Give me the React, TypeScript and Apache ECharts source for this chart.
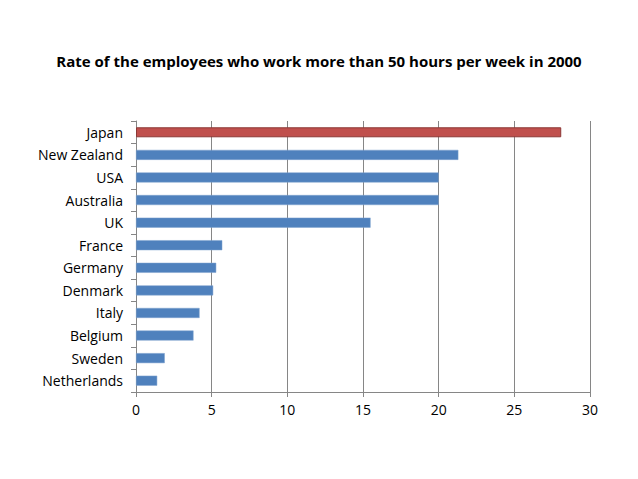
import React, { useEffect, useRef } from "react";
import * as echarts from "echarts";

const countries = [
  "Japan",
  "New Zealand",
  "USA",
  "Australia",
  "UK",
  "France",
  "Germany",
  "Denmark",
  "Italy",
  "Belgium",
  "Sweden",
  "Netherlands",
];
const rates = [28.1, 21.3, 20, 20, 15.5, 5.7, 5.3, 5.1, 4.2, 3.8, 1.9, 1.4];
const highlighted = "Japan";
const titleText = "Rate of the employees who work more than 50 hours per week in 2000";

export default function App() {
  const ref = useRef<HTMLDivElement>(null);
  useEffect(() => {
    if (!ref.current) return;
    const chart = echarts.init(ref.current, undefined, { renderer: "svg" });
    const font = "Open Sans";
    chart.setOption({
      animation: false,
      backgroundColor: "#ffffff",
      title: {
        text: titleText,
        left: "center",
        top: 48,
        textStyle: { fontFamily: font, fontSize: 15, fontWeight: "bold", color: "#000" },
      },
      grid: { left: 136, right: 48, top: 121, bottom: 87, containLabel: false },
      xAxis: {
        type: "value",
        min: 0,
        max: 30,
        interval: 5,
        axisLine: { show: true, lineStyle: { color: "#868686", width: 1 } },
        axisTick: { show: true, length: 5, lineStyle: { color: "#868686" } },
        axisLabel: { fontFamily: font, fontSize: 14, color: "#000", margin: 10 },
        splitLine: { show: true, lineStyle: { color: "#868686", width: 1 } },
      },
      yAxis: {
        type: "category",
        inverse: true,
        data: countries,
        axisLine: { show: true, lineStyle: { color: "#868686", width: 1 } },
        axisTick: { show: true, length: 5, lineStyle: { color: "#868686" } },
        axisLabel: { fontFamily: font, fontSize: 14, color: "#000", margin: 13 },
      },
      series: [
        {
          type: "bar",
          barWidth: 10,
          data: rates.map((v, i) =>
            countries[i] === highlighted
              ? { value: v, itemStyle: { color: "#C0504D", borderColor: "#8C3836", borderWidth: 1 } }
              : { value: v, itemStyle: { color: "#4F81BD", borderColor: "#7FA3CF", borderWidth: 0.5 } }
          ),
        },
      ],
    });
    return () => chart.dispose();
  }, []);
  return (
    <div
      ref={ref}
      style={{ position: "fixed", left: 0, top: 0, width: 638, height: 479 }}
    />
  );
}
